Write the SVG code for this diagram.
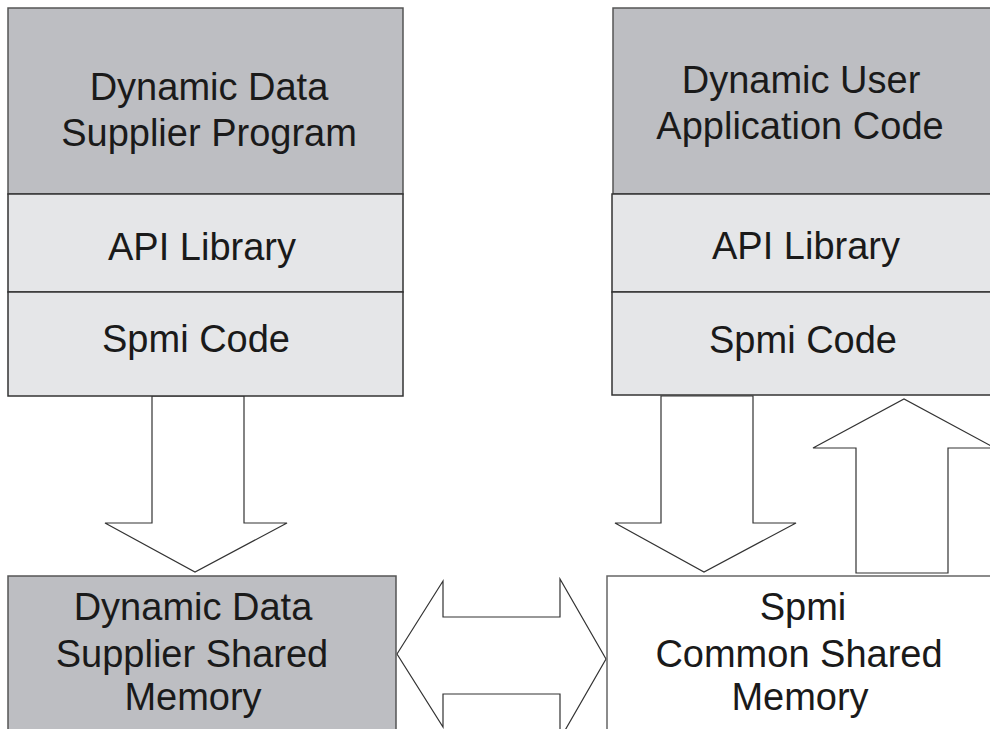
<svg xmlns="http://www.w3.org/2000/svg" width="990" height="729" viewBox="0 0 990 729">
<style>
.dark{fill:#bdbec2;stroke:#555;stroke-width:1.5}
.light{fill:#e5e6e8;stroke:#333;stroke-width:1.5}
.white{fill:#fff;stroke:#666;stroke-width:1.5}
.arrow{fill:#fff;stroke:#333;stroke-width:1.2;stroke-linejoin:miter}
text{font-family:"Liberation Sans",Arial,sans-serif;font-size:38px;fill:#1a1a1a;text-anchor:middle}
</style>
<rect width="990" height="729" fill="#fff"/>
<g id="connectors">
<polygon class="arrow" points="152,396 244,396 244,523 287,523 195,572 105,523 152,523"/>
<polygon class="arrow" points="661,396 753,396 753,523 796,523 704,572 615,523 661,523"/>
<polygon class="arrow" points="856,573 948,573 948,448 995,448 904,399 813,448 856,448"/>
<polygon class="arrow" points="397,654 443,581 443,617 560,617 560,579 606,659 560,739 560,694 443,694 443,727"/>
</g>
<g id="supplier-program">
<rect class="dark" x="8" y="8" width="395" height="186"/>
<text x="209" y="100">Dynamic Data</text>
<text x="209" y="146">Supplier Program</text>
</g>
<g id="supplier-api">
<rect class="light" x="8" y="194" width="395" height="98"/>
<text x="202" y="260">API Library</text>
</g>
<g id="supplier-spmi">
<rect class="light" x="8" y="292" width="395" height="104"/>
<text x="196" y="352">Spmi Code</text>
</g>
<g id="user-app">
<rect class="dark" x="613" y="8" width="390" height="186"/>
<text x="801" y="93">Dynamic User</text>
<text x="800" y="139">Application Code</text>
</g>
<g id="user-api">
<rect class="light" x="612" y="194" width="391" height="98"/>
<text x="806" y="259">API Library</text>
</g>
<g id="user-spmi">
<rect class="light" x="612" y="292" width="391" height="103"/>
<text x="803" y="353">Spmi Code</text>
</g>
<g id="supplier-shm">
<rect class="dark" x="8" y="576" width="388" height="170"/>
<text x="193" y="620">Dynamic Data</text>
<text x="192" y="667">Supplier Shared</text>
<text x="193" y="710">Memory</text>
</g>
<g id="common-shm">
<rect class="white" x="607" y="576" width="400" height="170"/>
<text x="803" y="620">Spmi</text>
<text x="799" y="667">Common Shared</text>
<text x="800" y="710">Memory</text>
</g>
</svg>
